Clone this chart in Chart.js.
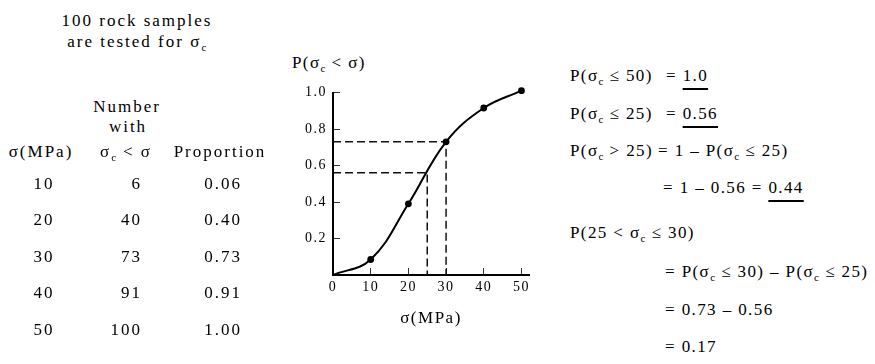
<!DOCTYPE html>
<html><head><meta charset="utf-8">
<script src="https://cdn.jsdelivr.net/npm/chart.js@4.4.0/dist/chart.umd.min.js"></script>
<style>
html,body{margin:0;padding:0;background:#fff;}
body{width:875px;height:364px;position:relative;overflow:hidden;font-family:"Liberation Serif","Times New Roman",serif;color:#000;}
.t{position:absolute;font-size:17px;line-height:20px;height:20px;white-space:nowrap;letter-spacing:2px;}
.e{letter-spacing:1.4px;}
.r{text-align:right;}
.c{text-align:center;}
sub{font-size:11px;vertical-align:-4px;line-height:0;letter-spacing:0.5px;}
.u{text-decoration:underline;text-decoration-thickness:1.6px;text-underline-offset:7px;}
#wrap{position:absolute;left:280px;top:50px;width:270px;height:290px;}
</style></head>
<body>
<div class="t e" style="left:292px;top:53px;">P(σ<sub>c</sub> &lt; σ)</div>
<div id="wrap"><canvas id="c" width="270" height="290"></canvas></div>
<script>
// ---- data ----
const sigmaMPa = [10, 20, 30, 40, 50];
const countBelow = [6, 40, 73, 91, 100];
const proportionText = ['0.06', '0.40', '0.73', '0.91', '1.00'];

const curveX = [0, 10, 20, 30, 40, 50];
const curveY = [0, 0.085, 0.39, 0.73, 0.915, 1.01];
const guideX = [25, 30];
const guideY = [0.56, 0.73];
const xTicks = [0, 10, 20, 30, 40, 50];
const yTicks = [0, 0.2, 0.4, 0.6, 0.8, 1.0];

// ---- text helpers ----
function txt(html, left, baseline, cls) {
  const d = document.createElement('div');
  d.className = 't ' + (cls || '');
  d.innerHTML = html;
  d.style.top = (baseline - 15) + 'px';
  const k = ' ' + (cls || '') + ' ';
  if (k.indexOf(' r ') >= 0) { d.style.left = (left - 200) + 'px'; d.style.width = '200px'; }
  else if (k.indexOf(' c ') >= 0) { d.style.left = (left - 100) + 'px'; d.style.width = '200px'; }
  else d.style.left = left + 'px';
  document.body.appendChild(d);
}
// ---- left table ----
txt('100 rock samples', 137, 26, 'c');
txt('are tested for σ<sub>c</sub>', 137, 47, 'c');
txt('Number', 127, 112, 'c');
txt('with', 128, 132, 'c');
txt('σ(MPa)', 41, 157, 'c');
txt('σ<sub>c</sub> &lt; σ', 126, 157, 'c');
txt('Proportion', 220, 157, 'c');
const rowBase = [189, 225, 262, 298, 335];
sigmaMPa.forEach((s, i) => {
  txt(String(s), 44, rowBase[i], 'c');
  txt(String(countBelow[i]), 142, rowBase[i], 'r');
  txt(proportionText[i], 242, rowBase[i], 'r');
});

// ---- right equations ----
txt('P(σ<sub>c</sub> ≤ 50)', 570, 81, 'e');
txt('= <span class="u">1.0</span>', 666, 81, 'e');
txt('P(σ<sub>c</sub> ≤ 25)', 570, 119, 'e');
txt('= <span class="u">0.56</span>', 666, 119, 'e');
txt('P(σ<sub>c</sub> &gt; 25)', 570, 156, 'e');
txt('= 1 – P(σ<sub>c</sub> ≤ 25)', 658, 156, 'e');
txt('= 1 – 0.56 = <span class="u">0.44</span>', 663, 193, 'e');
txt('P(25 &lt; σ<sub>c</sub> ≤ 30)', 570, 238, 'e');
txt('= P(σ<sub>c</sub> ≤ 30) – P(σ<sub>c</sub> ≤ 25)', 665, 277, 'e');
txt('= 0.73 – 0.56', 665, 315, 'e');
txt('= 0.17', 665, 352, 'e');

// ---- chart ----
const spacingPlugin = {
  id: 'spacing',
  beforeDraw(chart) { chart.ctx.letterSpacing = '1.5px'; }
};
const serif = 'Liberation Serif';
new Chart(document.getElementById('c'), {
  type: 'scatter',
  data: {
    datasets: [
      {
        label: 'curve',
        data: curveX.map((x, i) => ({ x: x, y: curveY[i] })),
        showLine: true,
        borderColor: '#000',
        borderWidth: 2,
        tension: 0.4,
        pointRadius: c => (c.dataIndex === 0 ? 0 : 3.4),
        pointBackgroundColor: '#000',
        pointBorderWidth: 0,
        clip: false
      },
      {
        label: 'guide30',
        data: [{ x: 0, y: guideY[1] }, { x: guideX[1], y: guideY[1] }, { x: guideX[1], y: 0 }],
        showLine: true, borderColor: '#111', borderWidth: 1.5, borderDash: [8, 4],
        pointRadius: 0, tension: 0
      },
      {
        label: 'guide25',
        data: [{ x: 0, y: guideY[0] }, { x: guideX[0], y: guideY[0] }, { x: guideX[0], y: 0 }],
        showLine: true, borderColor: '#111', borderWidth: 1.5, borderDash: [8, 4],
        pointRadius: 0, tension: 0
      }
    ]
  },
  options: {
    responsive: false,
    animation: false,
    devicePixelRatio: 1,
    layout: { autoPadding: false, padding: { left: 13, top: 42.5, right: 21, bottom: 10 } },
    plugins: { legend: { display: false }, tooltip: { enabled: false } },
    scales: {
      x: {
        type: 'linear', min: 0, max: 52,
        afterBuildTicks: s => { s.ticks = xTicks.map(v => ({ value: v })); },
        afterFit: s => { s.height = 55; },
        border: { display: true, color: '#000', width: 2 },
        grid: { drawOnChartArea: false, drawTicks: true, tickLength: -7, color: '#333', lineWidth: 1 },
        ticks: { padding: 11, color: '#000', font: { family: serif, size: 14 }, maxRotation: 0, autoSkip: false,
                 callback: v => String(v) },
        title: { display: true, text: 'σ(MPa)', color: '#000', font: { family: serif, size: 17 }, padding: { top: 0, bottom: 1 } }
      },
      y: {
        type: 'linear', min: 0, max: 1,
        afterBuildTicks: s => { s.ticks = yTicks.map(v => ({ value: v })); },
        afterFit: s => { s.width = 40; },
        border: { display: true, color: '#000', width: 2 },
        grid: { drawOnChartArea: false, drawTicks: true, tickLength: -7, color: '#333', lineWidth: 1 },
        ticks: { padding: 13, color: '#000', font: { family: serif, size: 14 }, autoSkip: false,
                 callback: v => (v === 0 ? '' : v.toFixed(1)) }
      }
    }
  },
  plugins: [spacingPlugin]
});
</script>
</body></html>
